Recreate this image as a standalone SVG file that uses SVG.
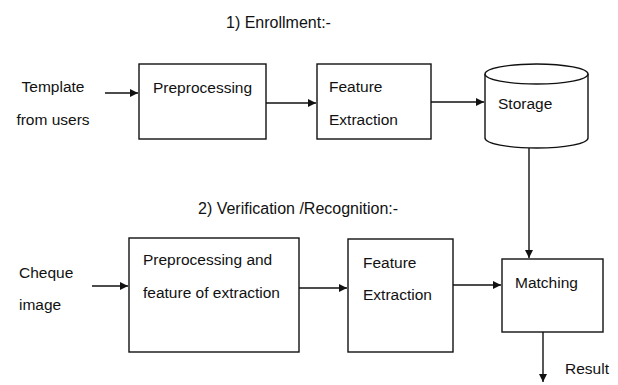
<svg xmlns="http://www.w3.org/2000/svg" width="618" height="385" viewBox="0 0 618 385">
<style>
text{font-family:"Liberation Sans",Arial,sans-serif;font-size:15.5px;fill:#111}
.title{font-size:16px}
.box{fill:#fff;stroke:#111;stroke-width:1.4}
.con{fill:none;stroke:#111;stroke-width:1.4}
</style>
<defs>
<marker id="ah" viewBox="0 0 10 10" refX="10" refY="5" markerWidth="8" markerHeight="8" markerUnits="userSpaceOnUse" orient="auto">
<path d="M0,0 L10,5 L0,10 Z" fill="#111"/>
</marker>
</defs>
<rect width="618" height="385" fill="#fff"/>
<text class="title" x="226" y="28">1) Enrollment:-</text>
<text class="title" x="198" y="214">2) Verification /Recognition:-</text>

<g id="template-input">
<text x="53" y="92" text-anchor="middle">Template</text>
<text x="53" y="125" text-anchor="middle">from users</text>
</g>
<g id="preprocessing">
<rect class="box" x="139" y="64" width="127" height="75"/>
<text x="153" y="93">Preprocessing</text>
</g>
<g id="feature-extraction-1">
<rect class="box" x="317" y="64" width="114" height="75"/>
<text x="329" y="92">Feature</text>
<text x="329" y="125">Extraction</text>
</g>
<g id="storage">
<path class="box" d="M485,74 L485,138 A51.5,10 0 0 0 588,138 L588,74"/>
<ellipse class="box" cx="536.5" cy="74" rx="51.5" ry="10"/>
<text x="498" y="109">Storage</text>
</g>

<g id="cheque-input">
<text x="19" y="278">Cheque</text>
<text x="19" y="310">image</text>
</g>
<g id="preprocessing-and-feature">
<rect class="box" x="129" y="238" width="170" height="114"/>
<text x="143" y="265">Preprocessing and</text>
<text x="143" y="298">feature of extraction</text>
</g>
<g id="feature-extraction-2">
<rect class="box" x="348" y="239" width="105" height="113"/>
<text x="363" y="268">Feature</text>
<text x="363" y="300">Extraction</text>
</g>
<g id="matching">
<rect class="box" x="502" y="259" width="101" height="73"/>
<text x="515" y="288">Matching</text>
</g>
<g id="result">
<text x="565" y="374">Result</text>
</g>

<g id="connectors">
<line class="con" x1="105" y1="93" x2="138" y2="93" marker-end="url(#ah)"/>
<line class="con" x1="266" y1="103" x2="316" y2="103" marker-end="url(#ah)"/>
<line class="con" x1="431" y1="102" x2="484" y2="102" marker-end="url(#ah)"/>
<line class="con" x1="529" y1="148" x2="529" y2="258" marker-end="url(#ah)"/>
<line class="con" x1="92" y1="286" x2="128" y2="286" marker-end="url(#ah)"/>
<line class="con" x1="299" y1="288" x2="347" y2="288" marker-end="url(#ah)"/>
<line class="con" x1="453" y1="285" x2="501" y2="285" marker-end="url(#ah)"/>
<line class="con" x1="543" y1="332" x2="543" y2="382" marker-end="url(#ah)"/>
</g>
</svg>
